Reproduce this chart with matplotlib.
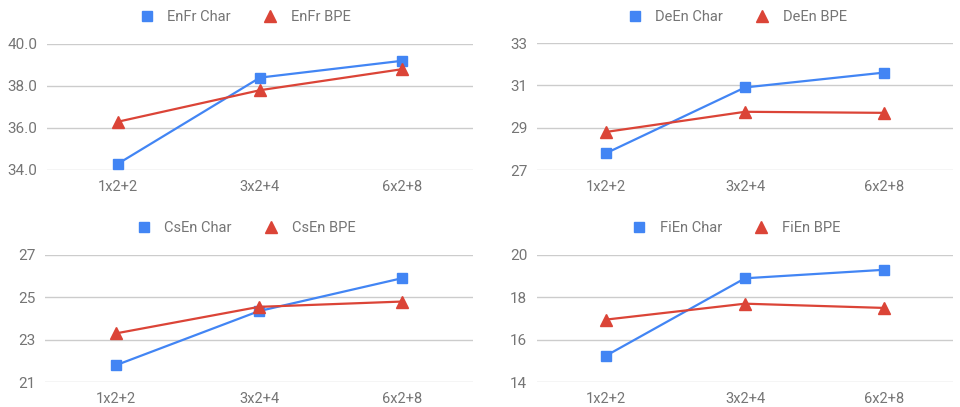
import matplotlib
matplotlib.use("Agg")
import matplotlib.pyplot as plt

plt.rcParams['font.family'] = ['Roboto', 'DejaVu Sans']

configs = ["1x2+2", "3x2+4", "6x2+8"]

enfr_char = [34.3, 38.4, 39.2]
enfr_bpe = [36.3, 37.8, 38.8]
deen_char = [27.8, 30.9, 31.6]
deen_bpe = [28.8, 29.75, 29.7]
csen_char = [21.8, 24.35, 25.9]
csen_bpe = [23.3, 24.55, 24.8]
fien_char = [15.25, 18.9, 19.3]
fien_bpe = [16.95, 17.7, 17.5]

panels = [
    ("EnFr", enfr_char, enfr_bpe, [34.0, 36.0, 38.0, 40.0], "{:.1f}"),
    ("DeEn", deen_char, deen_bpe, [27, 29, 31, 33], "{:.0f}"),
    ("CsEn", csen_char, csen_bpe, [21, 23, 25, 27], "{:.0f}"),
    ("FiEn", fien_char, fien_bpe, [14, 16, 18, 20], "{:.0f}"),
]

W, H = 960, 407
# axes boxes in pixels: left, top, right, bottom
boxes = [(47, 44, 473, 170), (537, 43, 953, 170),
         (45, 255, 473, 382), (537, 255, 953, 382)]
legend_x = [245, 737, 246, 736]
legend_y = [17, 17, 228, 228]

blue = "#4285F4"
red = "#DB4437"
grey = "#757575"

fig = plt.figure(figsize=(W / 100, H / 100), dpi=100)

for (name, char, bpe, ticks, fmt), (l, t, r, b), lx, ly in zip(
        panels, boxes, legend_x, legend_y):
    ax = fig.add_axes([l / W, 1 - b / H, (r - l) / W, (b - t) / H])
    x = range(len(configs))
    ax.plot(x, char, color=blue, lw=1.6, marker="s", ms=7.5,
            label=f"{name} Char", clip_on=False)
    ax.plot(x, bpe, color=red, lw=1.6, marker="^", ms=8,
            label=f"{name} BPE", clip_on=False)
    ax.set_xlim(-0.5, 2.5)
    ax.set_ylim(ticks[0], ticks[-1])
    ax.set_yticks(ticks)
    ax.set_yticklabels([fmt.format(v) for v in ticks])
    ax.set_xticks(list(x))
    ax.set_xticklabels(configs)
    ax.grid(axis="y", color="#cccccc", lw=1)
    ax.set_axisbelow(True)
    for s in ax.spines.values():
        s.set_visible(False)
    ax.tick_params(axis="y", length=0, pad=7, labelsize=11, labelcolor=grey)
    ax.tick_params(axis="x", length=0, pad=7, labelsize=10.5, labelcolor=grey)
    ax.legend(loc="center", bbox_to_anchor=(lx / W, 1 - ly / H),
              bbox_transform=fig.transFigure, ncol=2, frameon=False,
              fontsize=10.5, labelcolor=grey, handlelength=1.0,
              handletextpad=0.9, columnspacing=2.2, numpoints=1)
    for h in ax.get_legend().get_lines():
        h.set_linestyle("none")

fig.savefig("out.png", dpi=100)
